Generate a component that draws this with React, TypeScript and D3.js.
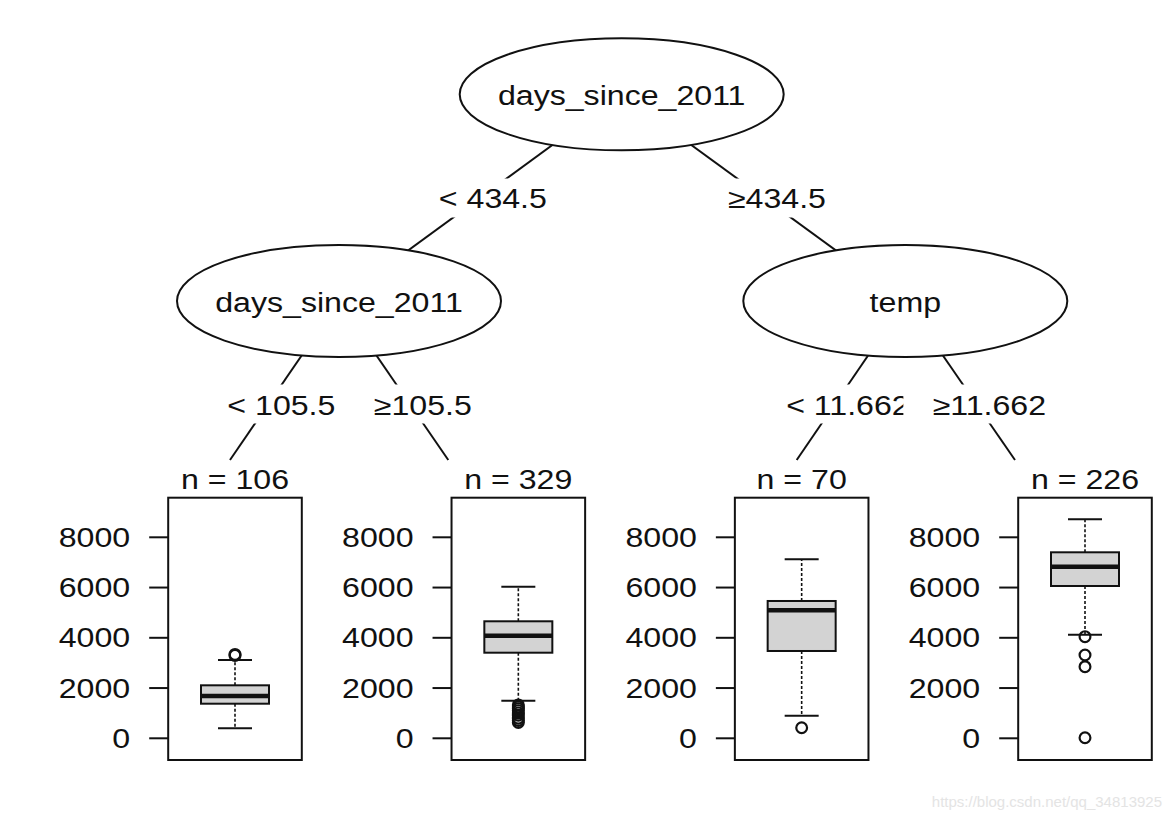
import React from "react";
import * as d3 from "d3";

// ---- data ----
const leafIds = ["3", "4", "6", "7"];
const leafN = [106, 329, 70, 226];
const whiskerLow = [398, 1497, 900, 4123];
const q1 = [1377, 3407, 3475, 6062];
const median = [1684, 4084, 5095, 6830];
const q3 = [2109, 4657, 5465, 7403];
const whiskerHigh = [3116, 6034, 7124, 8716];
const outliers = [
  [3300, 3340],
  [1330, 1250, 1180, 1100, 1010, 920, 800, 710, 630],
  [420],
  [4045, 3315, 2850, 22],
];
const yTicks = [0, 2000, 4000, 6000, 8000];

const innerNodes = ["days_since_2011", "days_since_2011", "temp"];
const edgeLabelsLevel1 = ["< 434.5", "\u2265434.5"];
const edgeLabelsLevel2 = ["< 105.5", "\u2265105.5", "< 11.662", "\u226511.662"];

// ---- layout ----
const W = 1173;
const H = 820;
const SX = 1.19;
const FS = 27;
const FONT = "'Liberation Sans', Arial, Helvetica, sans-serif";

const nodePos = [
  { x: 621.7, y: 94.3 },
  { x: 339, y: 301 },
  { x: 905.3, y: 301 },
];
const nodeRx = 162;
const nodeRy = 56;
const leafEdgeX = [230, 448.3, 796.7, 1015];
const leafEdgeY = 460;
const lvl1LabelY = 198;
const lvl2LabelY = 404;
const labelShift = 13;
const labelHalfW = 86;
const labelH = 39;

const xLeaf = d3.scalePoint<string>().domain(leafIds).range([235, 1085]);
const y = d3.scaleLinear().domain([0, 8000]).range([738.3, 537.3]);
const frameTop = 497.7;
const frameBottom = 760;
const frameHalf = 66.8;
const boxHalf = 34;
const capHalf = 17;

function T({ x, yy, children, anchor = "middle", size = FS, fill = "#111" }: any) {
  return (
    <text
      transform={`translate(${x},${yy}) scale(${SX},1)`}
      textAnchor={anchor}
      fontFamily={FONT}
      fontSize={size}
      fill={fill}
    >
      {children}
    </text>
  );
}

function xAtY(p: { x: number; y: number }, q: { x: number; y: number }, yy: number) {
  const t = (yy - p.y) / (q.y - p.y);
  return p.x + t * (q.x - p.x);
}

export default function App() {
  const lvl1 = [
    { from: nodePos[0], to: nodePos[1], label: edgeLabelsLevel1[0] },
    { from: nodePos[0], to: nodePos[2], label: edgeLabelsLevel1[1] },
  ];
  const lvl2 = leafIds.map((_, i) => ({
    from: nodePos[i < 2 ? 1 : 2],
    to: { x: leafEdgeX[i], y: leafEdgeY },
    label: edgeLabelsLevel2[i],
  }));

  return (
    <svg
      width={W}
      height={H}
      style={{ position: "absolute", left: 0, top: 0, background: "#fff" }}
    >
      <rect x={0} y={0} width={W} height={H} fill="#fff" />
      {/* edges */}
      {[...lvl1, ...lvl2].map((e, i) => (
        <line
          key={"e" + i}
          x1={e.from.x}
          y1={e.from.y}
          x2={e.to.x}
          y2={e.to.y}
          stroke="#111"
          strokeWidth={2}
        />
      ))}
      {/* inner nodes */}
      {innerNodes.map((lab, i) => (
        <g key={"n" + i}>
          <ellipse
            cx={nodePos[i].x}
            cy={nodePos[i].y}
            rx={nodeRx}
            ry={nodeRy}
            fill="#fff"
            stroke="#111"
            strokeWidth={2}
          />
          <T x={nodePos[i].x} yy={nodePos[i].y + 10.7}>
            {lab}
          </T>
        </g>
      ))}
      {/* edge labels */}
      {lvl1.map((e, i) => {
        const cx = xAtY(e.from, e.to, lvl1LabelY) + labelShift;
        return (
          <g key={"l1" + i}>
            <rect
              x={cx - labelHalfW}
              y={lvl1LabelY - labelH / 2}
              width={labelHalfW * 2}
              height={labelH}
              fill="#fff"
            />
            <T x={cx} yy={lvl1LabelY + 10.3}>
              {e.label}
            </T>
          </g>
        );
      })}
      {lvl2.map((e, i) => {
        const cx = xAtY(e.from, e.to, lvl2LabelY) + labelShift;
        return (
          <g key={"l2" + i}>
            <rect
              x={cx - labelHalfW}
              y={lvl2LabelY - labelH / 2}
              width={labelHalfW * 2}
              height={labelH}
              fill="#fff"
            />
            <T x={cx} yy={lvl2LabelY + 10.8}>
              {e.label}
            </T>
          </g>
        );
      })}
      {/* terminal panels */}
      {leafIds.map((id, i) => {
        const cx = xLeaf(id)!;
        const left = cx - frameHalf;
        return (
          <g key={"p" + id}>
            <T x={cx} yy={489.3}>{`n = ${leafN[i]}`}</T>
            <rect
              x={left}
              y={frameTop}
              width={frameHalf * 2}
              height={frameBottom - frameTop}
              fill="#fff"
              stroke="#111"
              strokeWidth={2}
            />
            {yTicks.map((t) => (
              <g key={"t" + t}>
                <line x1={left - 19} x2={left} y1={y(t)} y2={y(t)} stroke="#111" strokeWidth={2} />
                <T x={left - 38} yy={y(t) + 9.6} anchor="end">
                  {String(t)}
                </T>
              </g>
            ))}
            {/* whiskers */}
            <line x1={cx} x2={cx} y1={y(q3[i])} y2={y(whiskerHigh[i])} stroke="#111" strokeWidth={1.6} strokeDasharray="3,2" />
            <line x1={cx} x2={cx} y1={y(q1[i])} y2={y(whiskerLow[i])} stroke="#111" strokeWidth={1.6} strokeDasharray="3,2" />
            <line x1={cx - capHalf} x2={cx + capHalf} y1={y(whiskerHigh[i])} y2={y(whiskerHigh[i])} stroke="#111" strokeWidth={2} />
            <line x1={cx - capHalf} x2={cx + capHalf} y1={y(whiskerLow[i])} y2={y(whiskerLow[i])} stroke="#111" strokeWidth={2} />
            {/* box */}
            <rect
              x={cx - boxHalf}
              y={y(q3[i])}
              width={boxHalf * 2}
              height={y(q1[i]) - y(q3[i])}
              fill="#d3d3d3"
              stroke="#111"
              strokeWidth={2}
            />
            <line x1={cx - boxHalf} x2={cx + boxHalf} y1={y(median[i])} y2={y(median[i])} stroke="#111" strokeWidth={4.5} />
            {outliers[i].map((v, j) => (
              <circle key={"o" + j} cx={cx} cy={y(v)} r={5.4} fill="none" stroke="#111" strokeWidth={2.2} />
            ))}
          </g>
        );
      })}
      {/* watermark */}
      <text x={1162} y={807} textAnchor="end" fontFamily={FONT} fontSize={15} fill="#e4e4e4">
        https://blog.csdn.net/qq_34813925
      </text>
    </svg>
  );
}
